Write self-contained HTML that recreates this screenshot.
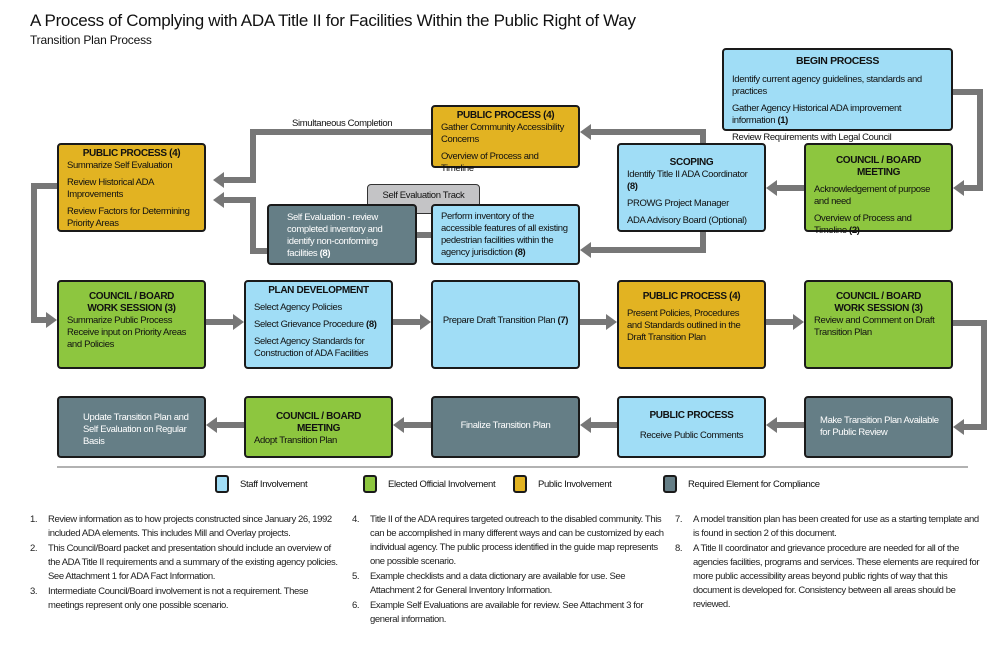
<!DOCTYPE html>
<html><head><meta charset="utf-8">
<style>
*{margin:0;padding:0;box-sizing:border-box}
body{width:1000px;height:647px;background:#fff;position:relative;overflow:hidden;font-family:"Liberation Sans",Arial,sans-serif;color:#111}
.b{position:absolute;border:2.5px solid #1a1a1a;border-radius:4px;font-size:9.5px;letter-spacing:-0.35px;line-height:12px;padding:3px 8px}
.bl{background:#a0ddf6}.gr{background:#8dc63f}.ye{background:#e2b322}.gy{background:#657e86;color:#fff}
.h{font-weight:bold;text-align:center;font-size:10px}
.p{margin-top:5px}
.t{position:absolute;font-size:9.5px;letter-spacing:-0.35px}
.fn{position:absolute;font-size:9.5px;letter-spacing:-0.4px;line-height:14px;color:#222}
.fn div{position:relative;padding-left:18px;margin-bottom:1px}
.fn span{position:absolute;left:0}
.lg{position:absolute;width:14px;height:18px;border:2px solid #1a1a1a;border-radius:3px;top:475px}
</style></head><body>
<div style="position:absolute;left:30px;top:11px;font-size:17px;letter-spacing:-0.3px">A Process of Complying with ADA Title II for Facilities Within the Public Right of Way</div>
<div style="position:absolute;left:30px;top:33px;font-size:12px;letter-spacing:-0.2px">Transition Plan Process</div>

<svg width="1000" height="647" style="position:absolute;left:0;top:0" fill="none">
<g stroke="#777" stroke-width="6">
<polyline points="953,92 980,92 980,188 962,188"/>
<line x1="804" y1="188" x2="775" y2="188"/>
<polyline points="703,143 703,132 589,132"/>
<polyline points="703,232 703,250 589,250"/>
<polyline points="432,132 253,132 253,180 222,180"/>
<polyline points="268,251 253,251 253,200 222,200"/>
<line x1="417" y1="235" x2="432" y2="235"/>
<polyline points="57,186 34,186 34,320 48,320"/>
<line x1="206" y1="322" x2="235" y2="322"/>
<line x1="393" y1="322" x2="422" y2="322"/>
<line x1="580" y1="322" x2="608" y2="322"/>
<line x1="766" y1="322" x2="795" y2="322"/>
<polyline points="953,323 984,323 984,427 962,427"/>
<line x1="804" y1="425" x2="775" y2="425"/>
<line x1="617" y1="425" x2="589" y2="425"/>
<line x1="431" y1="425" x2="402" y2="425"/>
<line x1="244" y1="425" x2="215" y2="425"/>
</g>
<g fill="#777">
<polygon points="953,188 964,180 964,196"/>
<polygon points="766,188 777,180 777,196"/>
<polygon points="580,132 591,124 591,140"/>
<polygon points="580,250 591,242 591,258"/>
<polygon points="213,180 224,172 224,188"/>
<polygon points="213,200 224,192 224,208"/>
<polygon points="57,320 46,312 46,328"/>
<polygon points="244,322 233,314 233,330"/>
<polygon points="431,322 420,314 420,330"/>
<polygon points="617,322 606,314 606,330"/>
<polygon points="804,322 793,314 793,330"/>
<polygon points="953,427 964,419 964,435"/>
<polygon points="766,425 777,417 777,433"/>
<polygon points="580,425 591,417 591,433"/>
<polygon points="393,425 404,417 404,433"/>
<polygon points="206,425 217,417 217,433"/>
</g>
<line x1="57" y1="467" x2="968" y2="467" stroke="#999" stroke-width="1.5"/>
</svg>

<div class="t" style="left:292px;top:118px">Simultaneous Completion</div>

<div class="b bl" style="left:722px;top:48px;width:231px;height:83px"><div class="h" style="font-size:10.5px;margin-top:2px">BEGIN PROCESS</div><div class="p" style="margin-top:7px">Identify current agency guidelines, standards and practices</div><div class="p">Gather Agency Historical ADA improvement information <b>(1)</b></div><div class="p">Review Requirements with Legal Council</div></div>

<div class="b gr" style="left:804px;top:143px;width:149px;height:89px"><div class="h" style="margin-top:7px">COUNCIL / BOARD MEETING</div><div class="p">Acknowledgement of purpose and need</div><div class="p">Overview of Process and Timeline <b>(2)</b></div></div>

<div class="b bl" style="left:617px;top:143px;width:149px;height:89px"><div class="h" style="margin-top:9px">SCOPING</div><div>Identify Title II ADA Coordinator <b>(8)</b></div><div class="p">PROWG Project Manager</div><div class="p">ADA Advisory Board (Optional)</div></div>

<div class="b ye" style="left:431px;top:105px;width:149px;height:63px"><div class="h">PUBLIC PROCESS (4)</div><div>Gather Community Accessibility Concerns</div><div class="p">Overview of Process and Timeline</div></div>

<div class="b ye" style="left:57px;top:143px;width:149px;height:89px"><div class="h">PUBLIC PROCESS (4)</div><div>Summarize Self Evaluation</div><div class="p">Review Historical ADA Improvements</div><div class="p">Review Factors for Determining Priority Areas</div></div>

<div class="b" style="left:367px;top:184px;width:113px;height:30px;background:#c4c4c6;border-color:#333;border-width:1.5px;text-align:center;padding-top:5px">Self Evaluation Track</div>

<div class="b gy" style="left:267px;top:204px;width:150px;height:61px;padding-left:18px;padding-top:6px">Self Evaluation - review completed inventory and identify non-conforming facilities <b>(8)</b></div>

<div class="b bl" style="left:431px;top:204px;width:149px;height:61px;padding-top:5px">Perform inventory of the accessible features of all existing pedestrian facilities within the agency jurisdiction <b>(8)</b></div>

<div class="b gr" style="left:57px;top:280px;width:149px;height:89px"><div class="h" style="margin-top:6px">COUNCIL / BOARD<br>WORK SESSION (3)</div><div>Summarize Public Process</div><div>Receive input on Priority Areas and Policies</div></div>

<div class="b bl" style="left:244px;top:280px;width:149px;height:89px"><div class="h">PLAN DEVELOPMENT</div><div class="p">Select Agency Policies</div><div class="p">Select Grievance Procedure <b>(8)</b></div><div class="p">Select Agency Standards for Construction of ADA Facilities</div></div>

<div class="b bl" style="left:431px;top:280px;width:149px;height:89px;text-align:center;padding-top:33px">Prepare Draft Transition Plan <b>(7)</b></div>

<div class="b ye" style="left:617px;top:280px;width:149px;height:89px"><div class="h" style="margin-top:6px">PUBLIC PROCESS (4)</div><div class="p">Present Policies, Procedures and Standards outlined in the Draft Transition Plan</div></div>

<div class="b gr" style="left:804px;top:280px;width:149px;height:89px"><div class="h" style="margin-top:6px">COUNCIL / BOARD<br>WORK SESSION (3)</div><div>Review and Comment on Draft Transition Plan</div></div>

<div class="b gy" style="left:57px;top:396px;width:149px;height:62px;padding-left:24px;padding-top:14px">Update Transition Plan and Self Evaluation on Regular Basis</div>

<div class="b gr" style="left:244px;top:396px;width:149px;height:62px"><div class="h" style="margin-top:10px">COUNCIL / BOARD MEETING</div><div>Adopt Transition Plan</div></div>

<div class="b gy" style="left:431px;top:396px;width:149px;height:62px;text-align:center;padding-top:22px">Finalize Transition Plan</div>

<div class="b bl" style="left:617px;top:396px;width:149px;height:62px;text-align:center"><div class="h" style="margin-top:9px">PUBLIC PROCESS</div><div style="margin-top:8px">Receive Public Comments</div></div>

<div class="b gy" style="left:804px;top:396px;width:149px;height:62px;padding-left:14px;padding-top:17px">Make Transition Plan Available for Public Review</div>

<div class="lg bl" style="left:215px"></div><div class="t" style="left:240px;top:479px">Staff Involvement</div>
<div class="lg gr" style="left:363px"></div><div class="t" style="left:388px;top:479px">Elected Official Involvement</div>
<div class="lg ye" style="left:513px"></div><div class="t" style="left:538px;top:479px">Public Involvement</div>
<div class="lg gy" style="left:663px"></div><div class="t" style="left:688px;top:479px">Required Element for Compliance</div>

<div class="fn" style="left:30px;top:513px;width:310px">
<div><span>1.</span>Review information as to how projects constructed since January 26, 1992 included ADA elements. This includes Mill and Overlay projects.</div>
<div><span>2.</span>This Council/Board packet and presentation should include an overview of the ADA Title II requirements and a summary of the existing agency policies. See Attachment 1 for ADA Fact Information.</div>
<div><span>3.</span>Intermediate Council/Board involvement is not a requirement. These meetings represent only one possible scenario.</div>
</div>
<div class="fn" style="left:352px;top:513px;width:318px">
<div><span>4.</span>Title II of the ADA requires targeted outreach to the disabled community. This can be accomplished in many different ways and can be customized by each individual agency. The public process identified in the guide map represents one possible scenario.</div>
<div><span>5.</span>Example checklists and a data dictionary are available for use. See Attachment 2 for General Inventory Information.</div>
<div><span>6.</span>Example Self Evaluations are available for review. See Attachment 3 for general information.</div>
</div>
<div class="fn" style="left:675px;top:513px;width:310px">
<div><span>7.</span>A model transition plan has been created for use as a starting template and is found in section 2 of this document.</div>
<div><span>8.</span>A Title II coordinator and grievance procedure are needed for all of the agencies facilities, programs and services. These elements are required for more public accessibility areas beyond public rights of way that this document is developed for. Consistency between all areas should be reviewed.</div>
</div>
</body></html>
